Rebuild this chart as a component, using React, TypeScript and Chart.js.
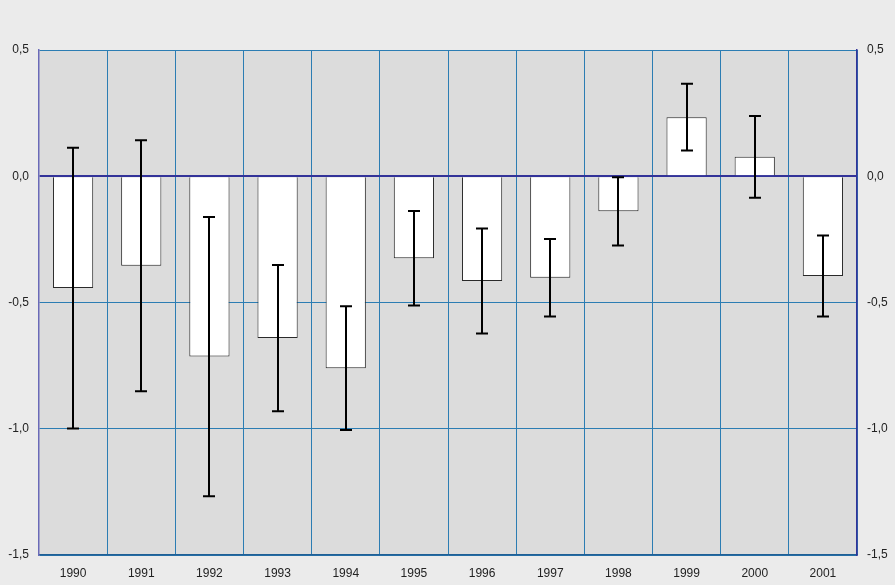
import React, { useEffect, useRef } from "react";
import { Chart, registerables } from "chart.js";

Chart.register(...registerables);

const years = ["1990", "1991", "1992", "1993", "1994", "1995", "1996", "1997", "1998", "1999", "2000", "2001"];
const values = [-0.443, -0.354, -0.714, -0.641, -0.76, -0.325, -0.415, -0.402, -0.139, 0.234, 0.077, -0.395];
const errors = [0.556, 0.497, 0.553, 0.29, 0.245, 0.187, 0.208, 0.153, 0.135, 0.132, 0.162, 0.16];
const yTicks = [-1.5, -1.0, -0.5, 0.0, 0.5];

const GRID = "#2c7db3";
const AXIS = "#333399";
const FONT = { family: "'Liberation Sans', Arial, sans-serif", size: 12 };

const plotBg = {
  id: "plotBg",
  beforeDraw(chart: any) {
    const { ctx, chartArea } = chart;
    ctx.save();
    ctx.fillStyle = "#dcdcdc";
    ctx.fillRect(chartArea.left, chartArea.top, chartArea.right - chartArea.left, chartArea.bottom - chartArea.top);
    ctx.restore();
  },
};

const errorBars = {
  id: "errorBars",
  afterDatasetsDraw(chart: any) {
    const { ctx } = chart;
    const meta = chart.getDatasetMeta(0);
    const y = chart.scales.y;
    ctx.save();
    ctx.strokeStyle = "#000";
    ctx.lineWidth = 2;
    meta.data.forEach((bar: any, i: number) => {
      const x = Math.round(bar.x);
      const top = y.getPixelForValue(values[i] + errors[i]);
      const bot = y.getPixelForValue(values[i] - errors[i]);
      ctx.beginPath();
      ctx.moveTo(x, top);
      ctx.lineTo(x, bot);
      ctx.moveTo(x - 6, top);
      ctx.lineTo(x + 6, top);
      ctx.moveTo(x - 6, bot);
      ctx.lineTo(x + 6, bot);
      ctx.stroke();
    });
    ctx.restore();
  },
};

const fmt = (v: any) => Number(v).toFixed(1).replace(".", ",");

export default function App() {
  const ref = useRef<HTMLCanvasElement>(null);
  useEffect(() => {
    if (!ref.current) return;
    const chart = new Chart(ref.current, {
      type: "bar",
      data: {
        labels: years,
        datasets: [
          {
            data: values,
            backgroundColor: "#ffffff",
            borderColor: "#2a2a2a",
            borderWidth: 1,
            barPercentage: 0.59,
            categoryPercentage: 1,
          },
        ],
      },
      options: {
        animation: false,
        responsive: false,
        maintainAspectRatio: false,
        layout: { padding: { top: 50, left: 0, right: 0, bottom: 0 } },
        plugins: { legend: { display: false }, tooltip: { enabled: false } },
        scales: {
          x: {
            offset: true,
            afterFit(scale: any) {
              scale.height = 30;
            },
            grid: { color: GRID, lineWidth: 1, offset: true, drawTicks: false },
            border: { color: "#1f5f95", width: 1.5 },
            ticks: { color: "#222", font: FONT, padding: 11, maxRotation: 0 },
          },
          y: {
            position: "left",
            min: -1.5,
            max: 0.5,
            afterFit(scale: any) {
              scale.width = 39;
            },
            afterBuildTicks(scale: any) {
              scale.ticks = yTicks.map((v) => ({ value: v }));
            },
            grid: {
              color: (c: any) => (c.tick && c.tick.value === 0 ? AXIS : GRID),
              lineWidth: (c: any) => (c.tick && c.tick.value === 0 ? 2 : 1),
              drawTicks: false,
            },
            border: { color: "#6a6ab8", width: 1.5 },
            ticks: { color: "#222", font: FONT, padding: 10, callback: fmt },
          },
          y2: {
            position: "right",
            min: -1.5,
            max: 0.5,
            afterFit(scale: any) {
              scale.width = 38;
            },
            afterBuildTicks(scale: any) {
              scale.ticks = yTicks.map((v) => ({ value: v }));
            },
            grid: { display: false, drawTicks: false },
            border: { color: AXIS, width: 1.5 },
            ticks: { color: "#222", font: FONT, padding: 10, callback: fmt },
          },
        },
      },
      plugins: [plotBg, errorBars],
    } as any);
    return () => chart.destroy();
  }, []);
  return (
    <div style={{ position: "absolute", left: 0, top: 0, width: 895, height: 585, background: "#ebebeb" }}>
      <canvas ref={ref} width={895} height={585} style={{ display: "block" }} />
    </div>
  );
}
